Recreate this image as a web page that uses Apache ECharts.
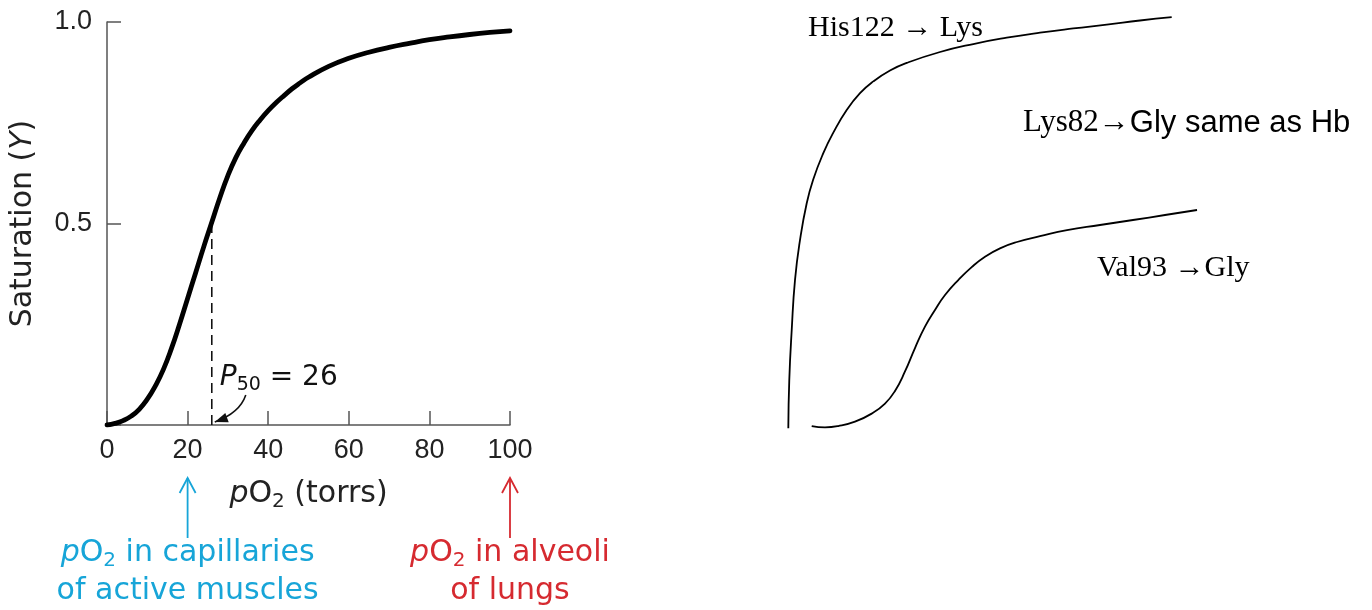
<!DOCTYPE html>
<html><head><meta charset="utf-8">
<script src="https://cdn.jsdelivr.net/npm/echarts@6/dist/echarts.min.js"></script>
<style>html,body{margin:0;padding:0;background:#fff}#c{width:1372px;height:610px}</style>
</head><body><div id="c"></div>
<script>
// ---- left panel: O2 saturation curve ----
const pO2 = [0,2,4,6,8,10,12,14,16,18,20,22,24,26,28,30,32,34,36,38,40,42,44,46,48,50,55,60,65,70,75,80,85,90,95,100];
const saturation = [0,0.004,0.011,0.022,0.039,0.064,0.097,0.138,0.19,0.25,0.314,0.378,0.442,0.503,0.564,0.619,0.664,0.70,0.731,0.757,0.78,0.80,0.818,0.835,0.8495,0.863,0.89,0.91,0.925,0.937,0.947,0.956,0.963,0.969,0.974,0.978];
const xTickStep = 20;
const yTickStep = 0.5;
const P50 = 26;
const muscleP = 20;
const lungP = 100;
// ---- right panel: mutant curves (arbitrary units) ----
const hisX = [1.98,2.21,2.79,3.57,4.76,6.36,7.93,10.31,12.69,15.88,19.05,22.21,26.19,30.17,38.10,46.02,53.98,61.90,69.83,77.79,85.71,93.26];
const hisY = [0.004,0.119,0.238,0.357,0.452,0.540,0.597,0.659,0.708,0.762,0.802,0.830,0.856,0.874,0.900,0.919,0.934,0.946,0.956,0.965,0.975,0.983];
const valX = [7.55,10.71,13.88,17.86,21.83,25.0,27.38,29.76,32.14,34.52,36.90,39.29,42.45,45.64,48.81,52.38,56.43,61.90,68.33,76.19,84.05,91.67,99.29];
const valY = [0.0095,0.0064,0.0095,0.0198,0.0390,0.0630,0.0930,0.1393,0.1952,0.2460,0.2857,0.3214,0.3571,0.3878,0.4126,0.4326,0.4476,0.4614,0.4760,0.4881,0.5,0.5119,0.5238];
// ---- texts ----
const yTitle = '{n|Saturation (}{i|Y}{n|)}';
const xTitle = '{i|p}{n|O}{s|2}{n| (torrs)}';
const p50Text = '{i|P}{s|50}{n| = ' + P50 + '}';
const muscleText = '{i|p}{n|O}{s|2}{n| in capillaries}\n{n|of active muscles}';
const lungText = '{i|p}{n|O}{s|2}{n| in alveoli}\n{n|of lungs}';
const hisText = 'His122 → Lys';
const lysText1 = 'Lys82→';
const lysText2 = 'Gly same as Hb';
const valText = 'Val93 →Gly';

const sans = 'DejaVu Sans';
const serif = 'Liberation Serif';
const zip = (a, b) => a.map((v, i) => [v, b[i]]);
const richFor = (size, color, lh) => ({
  n: {fontFamily: sans, fontSize: size, fill: color, color: color, lineHeight: lh},
  i: {fontFamily: sans, fontSize: size, fontStyle: 'italic', fill: color, color: color, lineHeight: lh},
  s: {fontFamily: sans, fontSize: Math.round(size*0.68), fill: color, color: color, lineHeight: lh, padding: [Math.round(size*0.5),0,0,0]}
});

const chart = echarts.init(document.getElementById('c'), null, {renderer: 'canvas'});
const axisCol = '#555';
chart.setOption({
  animation: false,
  backgroundColor: '#fff',
  grid: [
    {left: 107, top: 22, width: 403, height: 403},
    {left: 780, top: 10, width: 420, height: 420}
  ],
  xAxis: [
    {gridIndex: 0, type: 'value', min: 0, max: 100, interval: xTickStep,
     axisLine: {lineStyle: {color: axisCol, width: 1.5}},
     axisTick: {inside: true, length: 14, lineStyle: {color: axisCol, width: 1.5}},
     axisLabel: {fontFamily: 'Liberation Sans', fontSize: 27, color: '#222', margin: 12},
     splitLine: {show: false},
     name: xTitle, nameLocation: 'middle', nameGap: 52,
     nameTextStyle: {rich: richFor(30, '#222')}},
    {gridIndex: 1, type: 'value', min: 0, max: 100, show: false}
  ],
  yAxis: [
    {gridIndex: 0, type: 'value', min: 0, max: 1, interval: yTickStep,
     axisLine: {show: true, lineStyle: {color: axisCol, width: 1.5}},
     axisTick: {show: true, inside: true, length: 14, lineStyle: {color: axisCol, width: 1.5}},
     axisLabel: {fontFamily: 'Liberation Sans', fontSize: 27, color: '#222', margin: 15,
       formatter: v => v === 0 ? '' : v.toFixed(1)},
     splitLine: {show: false},
     name: yTitle, nameLocation: 'middle', nameGap: 69,
     nameTextStyle: {rich: richFor(30, '#222')}},
    {gridIndex: 1, type: 'value', min: 0, max: 1, show: false}
  ],
  series: [
    {type: 'line', xAxisIndex: 0, yAxisIndex: 0, data: [[P50, 0], [P50, 0.5]],
     showSymbol: false, lineStyle: {color: '#111', width: 1.6, type: [10, 6]}, z: 2},
    {type: 'line', xAxisIndex: 0, yAxisIndex: 0, data: zip(pO2, saturation), smooth: 0.5,
     showSymbol: false, lineStyle: {color: '#000', width: 4.8, cap: 'round', join: 'round'}, z: 3},
    {type: 'line', xAxisIndex: 1, yAxisIndex: 1, data: zip(hisX, hisY), smooth: 0.5,
     showSymbol: false, lineStyle: {color: '#000', width: 1.8, join: 'round'}},
    {type: 'line', xAxisIndex: 1, yAxisIndex: 1, data: zip(valX, valY), smooth: 0.5,
     showSymbol: false, lineStyle: {color: '#000', width: 1.8, join: 'round'}}
  ]
});

const px = (x, y) => chart.convertToPixel({gridIndex: 0}, [x, y]);
const blue = '#17a5d8', red = '#d62a30';
const graphics = [];
const base = px(0, 0)[1];
function upArrow(x, color) {
  const tip = base + 53, end = base + 113;
  graphics.push({type: 'line', shape: {x1: x, y1: tip, x2: x, y2: end}, style: {stroke: color, lineWidth: 1.8}});
  graphics.push({type: 'polyline', shape: {points: [[x-8, tip+15], [x, tip], [x+8, tip+15]]}, style: {stroke: color, lineWidth: 1.8, fill: null}});
}
const mX = px(muscleP, 0)[0], lX = px(lungP, 0)[0];
upArrow(mX, blue);
upArrow(lX, red);
graphics.push({type: 'text', x: mX, y: base + 147, style: {text: muscleText, rich: richFor(30, blue, 38), fill: blue, align: 'center', verticalAlign: 'middle'}});
graphics.push({type: 'text', x: lX, y: base + 147, style: {text: lungText, rich: richFor(30, red, 38), fill: red, align: 'center', verticalAlign: 'middle'}});
// P50 label + curved arrow
const p50px = px(P50, 0);
graphics.push({type: 'text', x: p50px[0] + 8, y: base - 47, style: {text: p50Text, rich: richFor(28, '#111'), fill: '#111', align: 'left', verticalAlign: 'middle'}});
const sx = p50px[0] + 34, sy = base - 30, ex = p50px[0] + 3, ey = base - 3, cx = p50px[0] + 28, cy = base - 12;
graphics.push({type: 'bezierCurve', shape: {x1: sx, y1: sy, x2: ex, y2: ey, cpx1: cx, cpy1: cy}, style: {stroke: '#111', lineWidth: 1.6, fill: null}});
(function () {
  const dx = ex - cx, dy = ey - cy, L = Math.hypot(dx, dy), ux = dx / L, uy = dy / L;
  const hl = 13, hw = 5;
  const bx = ex - ux * hl, by = ey - uy * hl;
  graphics.push({type: 'polygon', shape: {points: [[ex, ey], [bx - uy * hw, by + ux * hw], [bx + uy * hw, by - ux * hw]]}, style: {fill: '#111'}});
})();
// right panel labels
graphics.push({type: 'text', x: 808, y: 28, style: {text: hisText, fontFamily: serif, fontSize: 30, fill: '#000', align: 'left', verticalAlign: 'middle'}});
graphics.push({type: 'text', x: 1023, y: 123, style: {text: '{a|' + lysText1 + '}{b|' + lysText2 + '}', rich: {a: {fontFamily: serif, fontSize: 31, fill: '#000'}, b: {fontFamily: 'Liberation Sans', fontSize: 31, fill: '#000'}}, align: 'left', verticalAlign: 'middle'}});
graphics.push({type: 'text', x: 1097, y: 268, style: {text: valText, fontFamily: serif, fontSize: 30, fill: '#000', align: 'left', verticalAlign: 'middle'}});
chart.setOption({graphic: graphics});
</script></body></html>
